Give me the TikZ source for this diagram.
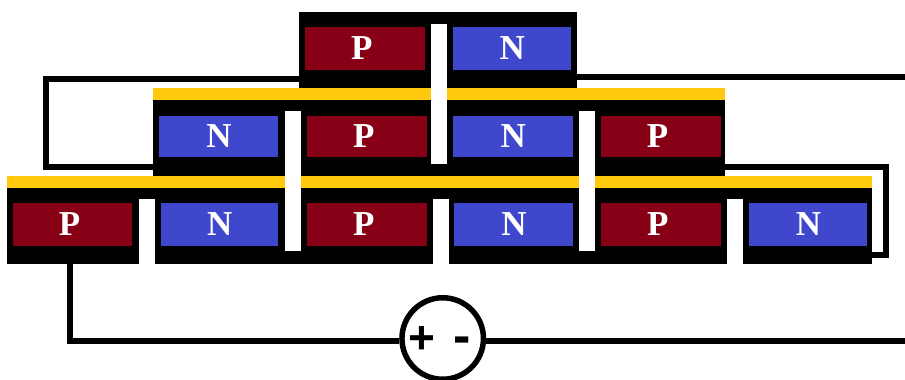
\documentclass[tikz,border=0pt]{standalone}
\usepackage{fontspec}
\setmainfont{Liberation Serif}
\newfontfamily\signfont{Liberation Sans}
\definecolor{pred}{HTML}{880015}
\definecolor{nblue}{HTML}{3F48CC}
\definecolor{gold}{HTML}{FFC90E}
\tikzset{
  x=1pt,y=-1pt,
  wire/.style={line width=6pt,black,line cap=butt,line join=miter},
  pcell/.style={fill=pred},
  ncell/.style={fill=nblue},
  goldbar/.style={fill=gold},
  blackblock/.style={fill=black},
  gap/.style={fill=white},
  lab/.style={font=\bfseries\fontsize{35}{35}\selectfont,text=white,inner sep=0pt},
  plab/.style={lab,xshift=-3pt},
  nlab/.style={lab,xshift=0.5pt},
  sign/.style={font=\signfont\bfseries\fontsize{46}{46}\selectfont,text=black,inner sep=0pt},
  box/.style={inner sep=0pt,outer sep=0pt,rectangle,anchor=north west},
}
% name, x1, y1, x2, y2, style
\newcommand{\blk}[6]{%
  \pgfmathsetlengthmacro{\bw}{#4-#2}\pgfmathsetlengthmacro{\bh}{#5-#3}%
  \node[box,#6,minimum width=\bw,minimum height=\bh] (#1) at (#2,#3) {};}
\begin{document}
\begin{tikzpicture}
\useasboundingbox (0,0) rectangle (905,380);
\coordinate (rtop) at (905,76.5);
\coordinate (rbot) at (905,340.5);
% black stacks
\blk{top}{299}{11.5}{576.5}{87.5}{blackblock}
\blk{mid}{153}{99.5}{724.5}{176}{blackblock}
\blk{bot}{7}{187.5}{872}{263.5}{blackblock}
% wires
\draw[wire] (top.west |- 0,78.5) -- (45.7,78.5) -- (45.7,166.5) -- (mid.west |- 0,166.5);
\draw[wire] (top.east |- rtop) -- (rtop);
\draw[wire] (mid.east |- 0,166.5) -- (885.5,166.5) -- (885.5,254.5) -- (bot.east |- 0,254.5);
% yellow bars
\blk{gone}{153}{87.5}{724.5}{99.5}{goldbar}
\blk{gtwo}{7}{176}{872}{187.5}{goldbar}
% white gaps
\blk{ga}{431}{23.5}{447}{164}{gap}
\blk{gb}{285}{111}{301}{251}{gap}
\blk{gc}{578.5}{111}{594.5}{251}{gap}
\blk{gd}{139}{199}{155}{264}{gap}
\blk{ge}{432.5}{199}{448.5}{264}{gap}
\blk{gf}{726.5}{199}{742.5}{264}{gap}
% top tier
\blk{t1}{304.5}{27}{425}{69.5}{pcell}
\blk{t2}{452.5}{27}{571}{69.5}{ncell}
% middle tier
\blk{m1}{159}{115.5}{278}{157}{ncell}
\blk{m2}{306.5}{115.5}{427}{157}{pcell}
\blk{m3}{452.5}{115.5}{573}{157}{ncell}
\blk{m4}{600.5}{115.5}{720.5}{157}{pcell}
% bottom tier
\blk{b1}{13}{203}{132}{245.5}{pcell}
\blk{b2}{160.5}{203}{278}{245.5}{ncell}
\blk{b3}{306.5}{203}{427}{245.5}{pcell}
\blk{b4}{454}{203}{573}{245.5}{ncell}
\blk{b5}{600.5}{203}{721}{245.5}{pcell}
\blk{b6}{749}{203}{867}{245.5}{ncell}
% labels
\node[plab] (t1l) at (t1.center) {P};
\node[nlab] (t2l) at (t2.center) {N};
\node[nlab] (m1l) at (m1.center) {N};
\node[plab] (m2l) at (m2.center) {P};
\node[nlab] (m3l) at (m3.center) {N};
\node[plab] (m4l) at (m4.center) {P};
\node[plab] (b1l) at (b1.center) {P};
\node[nlab] (b2l) at (b2.center) {N};
\node[plab] (b3l) at (b3.center) {P};
\node[nlab] (b4l) at (b4.center) {N};
\node[plab] (b5l) at (b5.center) {P};
\node[nlab] (b6l) at (b6.center) {N};
% source
\node[circle,draw=black,line width=5.5pt,fill=white,minimum size=81.5pt,inner sep=0pt] (src) at (442.7,338.5) {};
\node[sign] (plus) at (422.3,340) {+};
\node[sign,font=\signfont\bfseries\fontsize{52}{52}\selectfont] (minus) at (462.5,345.5) {-};
\draw[wire] (b1.south |- bot.south) ++(-2.8,0) -- (69.7,340.5) -- (src.west |- 0,340.5);
\draw[wire] (src.east |- rbot) -- (rbot);
\end{tikzpicture}
\end{document}
